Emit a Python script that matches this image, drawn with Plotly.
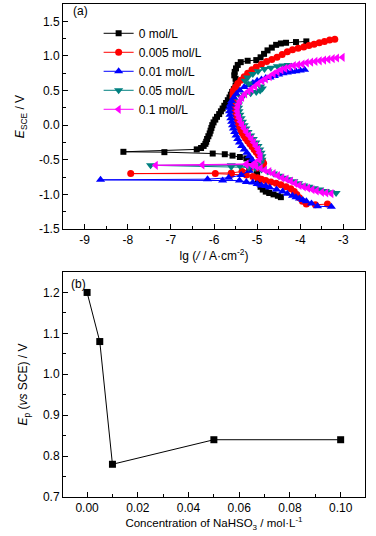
import plotly.graph_objects as go

# ---------------- data (a): polarization curves, (lg i, E_SCE) ----------------
SERIES_NAMES = ["0 mol/L", "0.005 mol/L", "0.01 mol/L", "0.05 mol/L", "0.1 mol/L"]

curve_0 = [
    (-4.45, -1.04), (-4.52, -1.02), (-4.62, -1.0), (-4.72, -0.98), (-4.8, -0.96), (-4.87, -0.93),
    (-4.92, -0.89), (-4.96, -0.84), (-4.98, -0.78), (-5.0, -0.72), (-5.01, -0.66), (-5.03, -0.6),
    (-5.08, -0.55), (-5.15, -0.51), (-5.25, -0.48), (-5.4, -0.46), (-5.57, -0.44), (-5.75, -0.42),
    (-6.03, -0.41), (-7.15, -0.39), (-8.1, -0.385),
    (-6.4, -0.35), (-6.3, -0.33), (-6.24, -0.3), (-6.2, -0.27), (-6.18, -0.24), (-6.16, -0.2),
    (-6.13, -0.16), (-6.1, -0.12), (-6.08, -0.08), (-6.06, -0.04), (-6.04, 0.0), (-6.01, 0.04),
    (-5.97, 0.08), (-5.93, 0.12), (-5.88, 0.16), (-5.84, 0.2), (-5.8, 0.24), (-5.76, 0.28),
    (-5.72, 0.32), (-5.68, 0.36), (-5.64, 0.4), (-5.61, 0.44), (-5.58, 0.48), (-5.54, 0.52),
    (-5.5, 0.57), (-5.48, 0.62), (-5.5, 0.67), (-5.53, 0.72), (-5.52, 0.77), (-5.49, 0.82),
    (-5.45, 0.87), (-5.38, 0.91), (-5.22, 0.93), (-5.02, 0.94), (-4.92, 0.98), (-4.84, 1.03),
    (-4.76, 1.08), (-4.66, 1.12), (-4.56, 1.16), (-4.45, 1.18), (-4.33, 1.19), (-4.1, 1.2),
    (-3.86, 1.21),
]

curve_0005 = [
    (-3.37, -1.14), (-3.65, -1.15), (-3.86, -1.14), (-3.95, -1.1), (-4.02, -1.05), (-4.08, -1.0),
    (-4.14, -0.96), (-4.22, -0.92), (-4.33, -0.89), (-4.45, -0.86), (-4.56, -0.84), (-4.68, -0.82),
    (-4.8, -0.8), (-4.9, -0.78), (-4.99, -0.76), (-5.1, -0.74), (-5.25, -0.72), (-5.6, -0.71),
    (-5.97, -0.70), (-7.93, -0.70),
    (-5.6, -0.69), (-5.35, -0.67), (-5.18, -0.64), (-5.0, -0.62), (-4.88, -0.59), (-4.85, -0.55),
    (-4.88, -0.51), (-4.92, -0.47), (-4.97, -0.43), (-5.02, -0.39), (-5.07, -0.35), (-5.12, -0.31),
    (-5.17, -0.27), (-5.22, -0.23), (-5.27, -0.19), (-5.31, -0.15), (-5.35, -0.11), (-5.38, -0.07),
    (-5.41, -0.03), (-5.43, 0.01), (-5.45, 0.05), (-5.47, 0.1), (-5.49, 0.15), (-5.51, 0.2),
    (-5.53, 0.25), (-5.54, 0.3), (-5.55, 0.35), (-5.56, 0.4), (-5.56, 0.45), (-5.55, 0.5),
    (-5.5, 0.55), (-5.45, 0.6), (-5.38, 0.65), (-5.3, 0.7), (-5.22, 0.75), (-5.12, 0.8),
    (-5.02, 0.84), (-4.9, 0.88), (-4.78, 0.92), (-4.66, 0.95), (-4.54, 0.98), (-4.42, 1.02),
    (-4.3, 1.06), (-4.18, 1.09), (-4.05, 1.11), (-3.92, 1.13), (-3.8, 1.15), (-3.68, 1.17),
    (-3.56, 1.19), (-3.44, 1.21), (-3.32, 1.23), (-3.2, 1.24),
]

curve_001 = [
    (-3.28, -1.18), (-3.6, -1.17), (-3.74, -1.13), (-3.86, -1.1), (-3.94, -1.08), (-4.02, -1.06),
    (-4.1, -1.04), (-4.18, -1.02), (-4.3, -0.99), (-4.41, -0.96), (-4.55, -0.93), (-4.71, -0.9),
    (-4.8, -0.88), (-4.9, -0.87), (-5.0, -0.85), (-5.1, -0.83), (-5.25, -0.82), (-5.41, -0.8),
    (-5.8, -0.8), (-8.63, -0.79),
    (-6.15, -0.78), (-5.66, -0.76), (-5.37, -0.72), (-5.18, -0.66), (-5.1, -0.6), (-5.08, -0.55),
    (-5.12, -0.5), (-5.18, -0.45), (-5.24, -0.4), (-5.3, -0.35), (-5.36, -0.3), (-5.41, -0.25),
    (-5.45, -0.2), (-5.49, -0.15), (-5.52, -0.1), (-5.55, -0.05), (-5.57, 0.0), (-5.59, 0.05),
    (-5.61, 0.1), (-5.63, 0.15), (-5.64, 0.2), (-5.64, 0.25), (-5.62, 0.3), (-5.59, 0.35),
    (-5.54, 0.4), (-5.48, 0.45), (-5.4, 0.5), (-5.3, 0.55), (-5.2, 0.58), (-5.1, 0.61),
    (-5.0, 0.64), (-4.9, 0.66), (-4.8, 0.68), (-4.7, 0.69), (-4.6, 0.71), (-4.5, 0.73),
    (-4.4, 0.75), (-4.3, 0.76), (-4.2, 0.77), (-4.1, 0.78), (-4.0, 0.79), (-3.9, 0.8),
]

curve_005 = [
    (-3.17, -0.98), (-3.3, -0.97), (-3.42, -0.95), (-3.55, -0.93), (-3.68, -0.91), (-3.8, -0.89),
    (-3.92, -0.87), (-4.04, -0.84), (-4.15, -0.81), (-4.27, -0.78), (-4.38, -0.76), (-4.5, -0.73),
    (-4.62, -0.7), (-4.75, -0.67), (-4.9, -0.64), (-5.05, -0.62), (-5.2, -0.6), (-5.4, -0.59),
    (-5.6, -0.58), (-7.47, -0.58),
    (-5.6, -0.6), (-5.2, -0.61), (-5.0, -0.6), (-4.92, -0.55), (-4.89, -0.5), (-4.89, -0.45),
    (-4.91, -0.4), (-4.94, -0.35), (-4.98, -0.3), (-5.03, -0.25), (-5.09, -0.2), (-5.15, -0.15),
    (-5.21, -0.1), (-5.26, -0.05), (-5.3, 0.0), (-5.34, 0.05), (-5.37, 0.1), (-5.4, 0.15),
    (-5.42, 0.2), (-5.43, 0.25), (-5.43, 0.3), (-5.41, 0.35), (-5.37, 0.4), (-5.3, 0.44),
    (-5.15, 0.46), (-5.02, 0.48), (-4.93, 0.5), (-4.88, 0.53), (-4.92, 0.56), (-5.2, 0.6),
    (-5.28, 0.64), (-5.22, 0.69), (-5.1, 0.74), (-4.98, 0.78), (-4.83, 0.81), (-4.68, 0.83),
    (-4.53, 0.85), (-4.4, 0.86), (-4.28, 0.87),
]

curve_01 = [
    (-3.28, -0.99), (-3.4, -0.98), (-3.5, -0.97), (-3.62, -0.95), (-3.72, -0.93), (-3.82, -0.91),
    (-3.92, -0.89), (-4.02, -0.87), (-4.12, -0.84), (-4.22, -0.81), (-4.32, -0.78), (-4.42, -0.76),
    (-4.52, -0.73), (-4.62, -0.7), (-4.72, -0.67), (-4.82, -0.65), (-4.92, -0.62), (-5.02, -0.6),
    (-5.12, -0.58), (-5.25, -0.57), (-6.27, -0.575), (-7.35, -0.58),
    (-5.25, -0.56), (-5.05, -0.55), (-4.95, -0.5), (-4.92, -0.45), (-4.95, -0.4), (-4.98, -0.35),
    (-5.03, -0.3), (-5.08, -0.25), (-5.13, -0.2), (-5.19, -0.15), (-5.25, -0.1), (-5.3, -0.05),
    (-5.35, 0.0), (-5.39, 0.05), (-5.42, 0.1), (-5.45, 0.15), (-5.46, 0.2), (-5.46, 0.25),
    (-5.44, 0.3), (-5.4, 0.35), (-5.35, 0.4), (-5.28, 0.45), (-5.2, 0.49), (-5.13, 0.52),
    (-5.05, 0.56), (-4.97, 0.6), (-4.88, 0.64), (-4.8, 0.67), (-4.71, 0.7), (-4.62, 0.74),
    (-4.53, 0.77), (-4.44, 0.8), (-4.35, 0.82), (-4.25, 0.84), (-4.15, 0.86), (-4.05, 0.87),
    (-3.95, 0.88), (-3.85, 0.9), (-3.75, 0.91), (-3.65, 0.92), (-3.55, 0.93), (-3.45, 0.94),
    (-3.35, 0.95), (-3.25, 0.96), (-3.15, 0.97), (-3.02, 0.98),
]

# ---------------- data (b): pitting potential vs concentration ----------------
conc = [0.0, 0.005, 0.01, 0.05, 0.1]
Ep = [1.20, 1.08, 0.78, 0.84, 0.84]

# tick labels
xa_vals = [-9, -8, -7, -6, -5, -4, -3]
xa_text = ["-9", "-8", "-7", "-6", "-5", "-4", "-3"]
ya_vals = [1.5, 1.0, 0.5, 0.0, -0.5, -1.0, -1.5]
ya_text = ["1.5", "1.0", "0.5", "0.0", "-0.5", "-1.0", "-1.5"]

# ---------------- figure ----------------
FONT = "Liberation Sans, Arial, sans-serif"
colors = ["#000000", "#FF0000", "#0000FF", "#008080", "#FF00FF"]
symbols = ["square", "circle", "triangle-up", "triangle-down", "triangle-left"]
sizes = [6, 7, 8, 8, 8]
curves = [curve_0, curve_0005, curve_001, curve_005, curve_01]

fig = go.Figure()
for name, data, c, s, sz in zip(SERIES_NAMES, curves, colors, symbols, sizes):
    fig.add_trace(go.Scatter(
        x=[p[0] for p in data], y=[p[1] for p in data], name=name,
        mode="lines+markers", line=dict(color=c, width=1),
        marker=dict(symbol=s, size=sz, color=c, line=dict(width=0)),
        xaxis="x", yaxis="y",
    ))

fig.add_trace(go.Scatter(
    x=conc, y=Ep, mode="lines+markers", showlegend=False,
    line=dict(color="black", width=1),
    marker=dict(symbol="square", size=7, color="black"),
    xaxis="x2", yaxis="y2",
))

axis_common = dict(
    showline=True, linecolor="black", linewidth=1, mirror=True,
    ticks="inside", ticklen=5, tickcolor="black", tickwidth=1,
    showgrid=False, zeroline=False, automargin=False,
    tickfont=dict(family=FONT, size=12, color="black"),
    title_font=dict(family=FONT, size=12, color="black"),
)

fig.update_layout(
    width=376, height=536,
    margin=dict(l=63, r=11, t=4, b=39),
    paper_bgcolor="white", plot_bgcolor="white",
    font=dict(family=FONT, size=12, color="black"),
    xaxis=dict(axis_common, range=[-9.5, -2.5], domain=[0, 1], anchor="y",
               tickmode="array", tickvals=xa_vals, ticktext=xa_text,
               minor=dict(ticks="inside", ticklen=3, dtick=0.5, tick0=-9, tickcolor="black"),
               title=dict(text="lg (<i>/</i> / A·cm<sup>-2</sup>)", standoff=0)),
    yaxis=dict(axis_common, range=[-1.5, 1.75], domain=[0.5436, 1], anchor="x",
               tickmode="array", tickvals=ya_vals, ticktext=ya_text,
               minor=dict(ticks="inside", ticklen=3, dtick=0.25, tick0=0, tickcolor="black"),
               title=dict(text="<i>E</i><sub>SCE</sub> / V", standoff=11)),
    xaxis2=dict(axis_common, range=[-0.0095, 0.1096], domain=[0, 1], anchor="y2",
                dtick=0.02, tick0=0, tickformat=".2f",
                minor=dict(ticks="inside", ticklen=3, dtick=0.01, tick0=0, tickcolor="black"),
                title=dict(text="Concentration of NaHSO<sub>3</sub> / mol·L<sup>-1</sup>", standoff=0,
                           font=dict(family=FONT, size=11.5, color="black"))),
    yaxis2=dict(axis_common, range=[0.7, 1.25], domain=[0, 0.4564], anchor="x2",
                dtick=0.1, tick0=0.7, tickformat=".1f",
                minor=dict(ticks="inside", ticklen=3, dtick=0.05, tick0=0.7, tickcolor="black"),
                title=dict(text="<i>E</i><sub>p</sub> (<i>vs</i> SCE) / V", standoff=12)),
    legend=dict(x=0.118, y=0.97, xanchor="left", yanchor="top",
                bgcolor="rgba(0,0,0,0)", borderwidth=0,
                font=dict(family=FONT, size=12, color="black"),
                tracegroupgap=0, itemwidth=30),
    annotations=[
        dict(text="(a)", x=0.025, y=0.985, xref="paper", yref="paper",
             xanchor="left", yanchor="middle", showarrow=False,
             font=dict(family=FONT, size=12, color="black")),
        dict(text="(b)", x=0.02, y=0.432, xref="paper", yref="paper",
             xanchor="left", yanchor="middle", showarrow=False,
             font=dict(family=FONT, size=12, color="black")),
    ],
)

fig.write_html("out.html", config={"displayModeBar": False},
               post_script="document.body.style.margin='0';")
